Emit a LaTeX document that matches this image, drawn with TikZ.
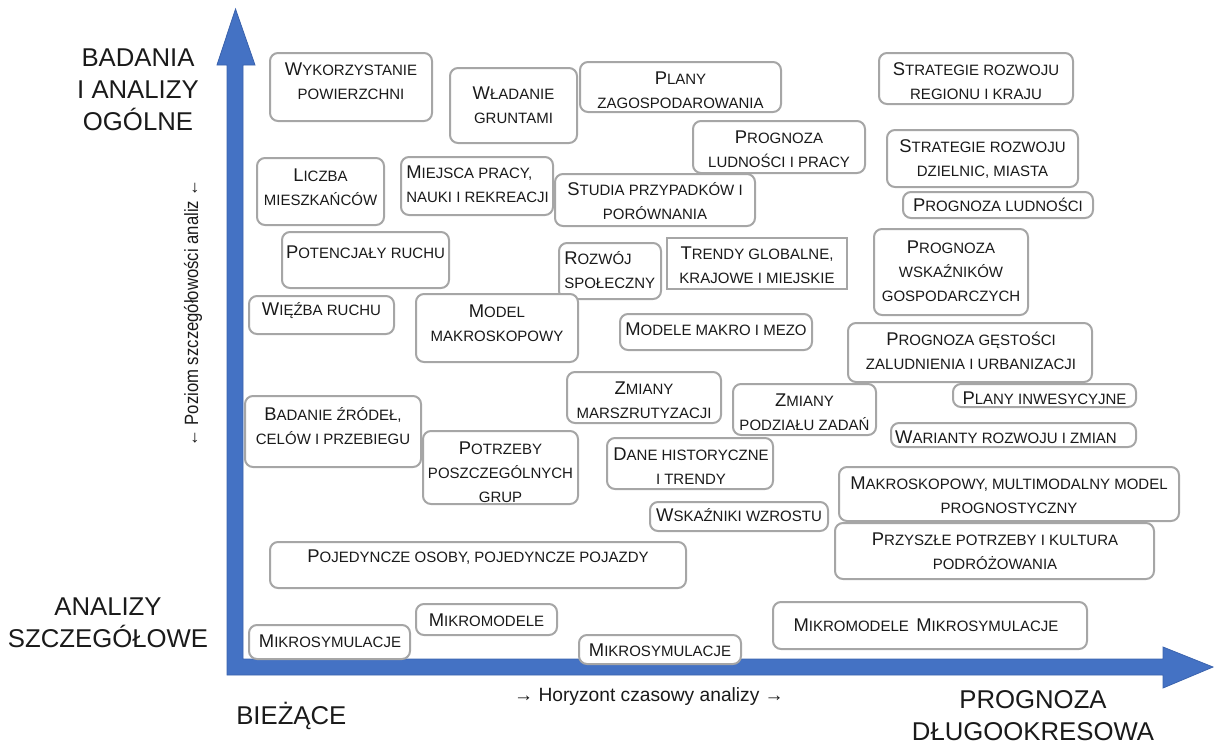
\documentclass[tikz,border=0pt]{standalone}
\usepackage{fontspec}
\setmainfont{Liberation Sans}
\usetikzlibrary{fit}
\definecolor{axisblue}{HTML}{4472C4}
\definecolor{axisedge}{HTML}{3A62AD}
\definecolor{boxgray}{HTML}{A6A6A6}
\definecolor{ink}{HTML}{1A1A1A}
\newcommand\Lg[1]{{\fontsize{13.8}{18}\selectfont #1}}
% [text options]{name}{x1}{y1}{x2}{y2}{tx}{ty}{text}
\newcommand\bx[9][]{%
  \node[boxst, fit={(#3,#4) (#5,#6)}] (#2) {};
  \node[txt, #1] (#2-t) at (#7,#8) {#9};
}
\begin{document}
\begin{tikzpicture}[x=0.75pt, y=-0.75pt,
  boxst/.style={draw=boxgray, line width=1.5pt, rounded corners=6pt, fill=white, inner sep=0pt},
  sharpbox/.style={boxst, rounded corners=0pt},
  txt/.style={font=\fontsize{11.25}{18}\selectfont, text=ink, align=center, inner sep=0pt},
  txtl/.style={align=left, anchor=west},
  axlab/.style={font=\fontsize{19.3}{24}\selectfont, text=ink, align=center, inner sep=0pt},
  axsmall/.style={font=\fontsize{14.4}{18}\selectfont, text=ink, inner sep=0pt}]
\useasboundingbox (0,0) rectangle (1214,744);

% axes (L-shaped double arrow)
\draw[fill=axisblue, draw=axisedge, line width=0.6pt, line join=miter]
  (227,65) -- (217,65) -- (235.5,9) -- (255,65) -- (243,65) -- (243,659)
  -- (1163,659) -- (1163,647) -- (1213,667) -- (1163,688) -- (1163,675)
  -- (227,675) -- cycle;

% axis labels
\node[axlab] (topl) at (138,90) {BADANIA\\I ANALIZY\\OGÓLNE};
\node[axlab] (botl) at (108,623) {ANALIZY\\SZCZEGÓŁOWE};
\node[axlab, anchor=west] (cur) at (236,716) {BIEŻĄCE};
\node[axlab] (lng) at (1033,716) {PROGNOZA\\DŁUGOOKRESOWA};
\node[axsmall] (hor) at (649,697) {→ Horyzont czasowy analizy →};
\node[axsmall, rotate=90] (ver) at (193,313) {\scalebox{0.87}[1]{← Poziom szczegółowości analiz ←}};

% boxes
\bx{wyk}{270}{53}{432}{121}{351}{81.5}{\Lg{W}YKORZYSTANIE\\POWIERZCHNI}
\bx{wla}{450}{68}{577}{143}{513.5}{105.5}{\Lg{W}ŁADANIE\\GRUNTAMI}
\bx{pla}{580}{62}{781}{112}{680.5}{90}{\Lg{P}LANY\\ZAGOSPODAROWANIA}
\bx{strA}{879}{53}{1073}{104}{976}{81}{\Lg{S}TRATEGIE ROZWOJU\\REGIONU I KRAJU}
\bx{prl}{693}{121}{865}{173}{779}{149}{\Lg{P}ROGNOZA\\LUDNOŚCI I PRACY}
\bx{strB}{887}{130}{1078}{187}{982.5}{159.5}{\Lg{S}TRATEGIE ROZWOJU\\DZIELNIC, MIASTA}
\bx{lic}{257}{158}{384}{225}{320.5}{187}{\Lg{L}ICZBA\\MIESZKAŃCÓW}
\bx[txtl]{mie}{401}{157}{553}{215}{406}{184}{\Lg{M}IEJSCA PRACY,\\NAUKI I REKREACJI}
\bx{stu}{555}{174}{755}{226}{655}{201}{\Lg{S}TUDIA PRZYPADKÓW I\\PORÓWNANIA}
\bx{pld}{903}{192}{1093}{218}{998}{205}{\Lg{P}ROGNOZA LUDNOŚCI}
\bx{pws}{874}{229}{1028}{315}{951}{271.5}{\Lg{P}ROGNOZA\\WSKAŹNIKÓW\\GOSPODARCZYCH}
\bx{pot}{282}{232}{449}{288}{365.5}{252}{\Lg{P}OTENCJAŁY RUCHU}
\bx[txtl]{roz}{559}{243}{661}{299}{564}{270.5}{\Lg{R}OZWÓJ\\SPOŁECZNY}
\node[sharpbox, fit={(667,238) (847,289)}] (tre) {};
\node[txt] (tre-t) at (757,265) {\Lg{T}RENDY GLOBALNE,\\KRAJOWE I MIEJSKIE};
\bx{wie}{249}{296}{394}{334}{321.5}{311}{\Lg{W}IĘŹBA RUCHU}
\bx{mod}{416}{294}{578}{362}{497}{323.5}{\Lg{M}ODEL\\MAKROSKOPOWY}
\bx{mme}{620}{314}{812}{350}{716}{329}{\Lg{M}ODELE MAKRO I MEZO}
\bx{pge}{848}{323}{1092}{382}{971}{351}{\Lg{P}ROGNOZA GĘSTOŚCI\\ZALUDNIENIA I URBANIZACJI}
\bx{zma}{567}{372}{721}{423}{644}{400.5}{\Lg{Z}MIANY\\MARSZRUTYZACJI}
\bx{zpz}{733}{384}{876}{435}{804.5}{412}{\Lg{Z}MIANY\\PODZIAŁU ZADAŃ}
\bx{pin}{953}{384}{1136}{407}{1044.5}{398}{\Lg{P}LANY INWESYCYJNE}
\bx{bad}{245}{396}{421}{467}{333}{426.5}{\Lg{B}ADANIE ŹRÓDEŁ,\\CELÓW I PRZEBIEGU}
\bx{war}{891}{423}{1136}{447}{1006}{437}{\Lg{W}ARIANTY ROZWOJU I ZMIAN}
\bx{ptr}{423}{431}{578}{504}{500.5}{472.5}{\Lg{P}OTRZEBY\\POSZCZEGÓLNYCH\\GRUP}
\bx{dan}{607}{438}{773}{489}{691}{466}{\Lg{D}ANE HISTORYCZNE\\I TRENDY}
\bx{mak}{839}{467}{1179}{521}{1009}{495}{\Lg{M}AKROSKOPOWY, MULTIMODALNY MODEL\\PROGNOSTYCZNY}
\bx{wsk}{650}{502}{828}{531}{739}{515.5}{\Lg{W}SKAŹNIKI WZROSTU}
\bx{prz}{835}{523}{1154}{579}{995}{551}{\Lg{P}RZYSZŁE POTRZEBY I KULTURA\\PODRÓŻOWANIA}
\bx{poj}{270}{542}{686}{588}{478}{557.5}{\Lg{P}OJEDYNCZE OSOBY, POJEDYNCZE POJAZDY}
\bx{mkm}{416}{604}{557}{635}{486.5}{620}{\Lg{M}IKROMODELE}
\bx{mksA}{249}{625}{410}{659}{330}{641}{\Lg{M}IKROSYMULACJE}
\bx{mksB}{579}{635}{741}{664}{660}{650}{\Lg{M}IKROSYMULACJE}
\bx{mmm}{773}{602}{1087}{649}{926}{625}{\Lg{M}IKROMODELE\hspace{0.5em}\Lg{M}IKROSYMULACJE}
\end{tikzpicture}
\end{document}
